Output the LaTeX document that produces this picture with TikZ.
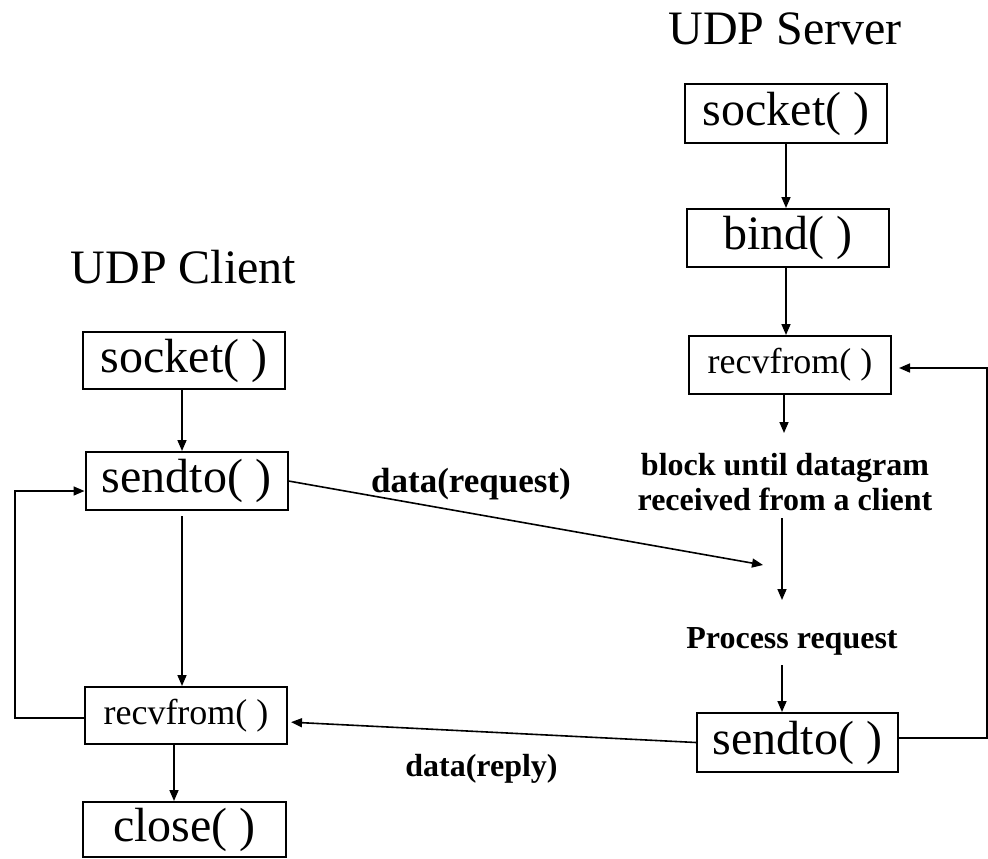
\documentclass[tikz,border=0pt]{standalone}
\usepackage{fontspec}
\setmainfont{Liberation Serif}
\usetikzlibrary{arrows.meta}
\begin{document}
\begin{tikzpicture}[x=1pt,y=-1pt,
  fbox/.style={draw, line width=2pt, inner sep=0pt, minimum width=202pt,
    minimum height=58pt, font=\fontsize{48}{56}\selectfont},
  rbox/.style={fbox, font=\fontsize{36}{42}\selectfont},
  title/.style={anchor=base, inner sep=0pt, font=\fontsize{48}{56}\selectfont},
  lbl/.style={anchor=base, inner sep=0pt, font=\bfseries\fontsize{32}{35}\selectfont},
  arr/.style={line width=1.6pt, -{Triangle[length=11pt,width=9pt]}}]

% canvas
\fill[white] (0,0) rectangle (988,859);

% column titles
\node[title] (ctitle) at (183.5,283) {UDP Client};
\node[title] (stitle) at (785,45) {UDP Server};

% client calls
\node[fbox, minimum height=57pt] (cSock) at (184,360.5) {socket( )};
\node[fbox] (cSend) at (186.5,481) {sendto( )};
\node[rbox, minimum height=57pt] (cRecv) at (186,715.5) {recvfrom( )};
\node[fbox, minimum height=55pt, minimum width=203pt] (cClose) at (184.5,829.5) {close( )};

% server calls
\node[fbox, minimum height=59pt] (sSock) at (786,113.5) {socket( )};
\node[fbox] (sBind) at (788,238) {bind( )};
\node[rbox] (sRecv) at (790,365) {recvfrom( )};
\node[fbox, minimum height=59pt, minimum width=201pt] (sSend) at (797.5,742.5) {sendto( )};

% labels
\node[lbl] (blk) at (785,475) {\begin{tabular}[t]{@{}c@{}}block until datagram\\received from a client\end{tabular}};
\node[lbl] (proc) at (792,648) {Process request};
\node[lbl, font=\bfseries\fontsize{35}{40}\selectfont] (req) at (471,492) {data(request)};
\node[lbl] (rep) at (481.5,776) {data(reply)};

% helper points for free connector ends
\coordinate (cMid) at (182,0);
\coordinate (cDown) at (174,0);
\coordinate (cLoopBot) at (15,718);
\coordinate (cLoopTop) at (15,491);
\coordinate (bIn) at (784,433);
\coordinate (bOut) at (782,518);
\coordinate (pIn) at (782,600);
\coordinate (pOut) at (782,665);
\coordinate (reqEnd) at (763,565);
\coordinate (repY) at (0,722);
\coordinate (rBot) at (987,738);
\coordinate (rTop) at (987,368);

% client flow
\draw[arr] (cSock.south -| cMid) -- (cSend.north -| cMid);
\draw[arr, shorten <=5pt] (cSend.south -| cMid) -- (cRecv.north -| cMid);
\draw[arr] (cRecv.south -| cDown) -- (cClose.north -| cDown);
\draw[arr] (cRecv.west |- cLoopBot) -- (cLoopBot) -- (cLoopTop) -- (cSend.west |- cLoopTop);

% server flow
\draw[arr] (sSock.south) -- (sSock.south |- sBind.north);
\draw[arr] (sBind.south -| sSock.south) -- (sSock.south |- sRecv.north);
\draw[arr] (sRecv.south -| bIn) -- (bIn);
\draw[arr] (bOut) -- (pIn);
\draw[arr] (pOut) -- (pOut |- sSend.north);
\draw[arr, shorten >=7pt] (sSend.east |- rBot) -- (rBot) -- (rTop) -- (sRecv.east |- rTop);

% datagrams exchanged
\draw[arr] (cSend.east) -- (reqEnd);
\draw[arr, shorten >=3pt] (sSend.west) -- (cRecv.east |- repY);
\end{tikzpicture}
\end{document}
